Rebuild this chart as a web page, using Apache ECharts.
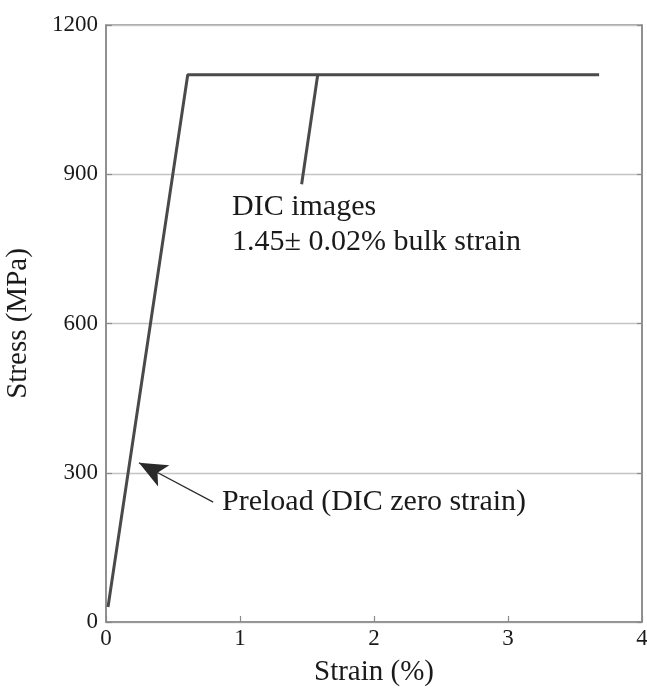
<!DOCTYPE html>
<html>
<head>
<meta charset="utf-8">
<script src="https://cdn.jsdelivr.net/npm/echarts@6/dist/echarts.min.js"></script>
<style>
  html, body { margin: 0; padding: 0; background: #fff; }
  #chart { width: 647px; height: 691px; }
</style>
</head>
<body>
<div id="chart"></div>
<script>
// stress-strain curve (strain %, stress MPa)
const curveStrain = [0.015, 0.61, 3.68]
const curveStress = [30, 1100, 1100]

// pointer line from the DIC label up to the curve
const dicStrain = [1.46, 1.58]
const dicStress = [880, 1100]

// preload arrow: tail -> tip
const preloadStrain = [0.80, 0.246]
const preloadStress = [241, 320]

const yTicks = [0, 300, 600, 900, 1200]
const xTicks = [0, 1, 2, 3, 4]

const font = '"Liberation Serif", "DejaVu Serif", serif'
const ink = '#4a4a4a'
const frame = '#8a8a8a'

const zip = (xs, ys) => xs.map((x, i) => [x, ys[i]])

const chart = echarts.init(document.getElementById('chart'))

chart.setOption({
  animation: false,
  grid: {
    left: 106, right: 5, top: 25, bottom: 69,
    containLabel: false, outerBoundsMode: 'none',
    show: true, borderColor: frame, borderWidth: 1.5,
  },
  xAxis: {
    type: 'value',
    min: xTicks[0],
    max: xTicks[xTicks.length - 1],
    interval: 1,
    name: 'Strain (%)',
    nameLocation: 'middle',
    nameGap: 36,
    nameTextStyle: { fontFamily: font, fontSize: 29, color: '#1a1a1a' },
    axisLine: { lineStyle: { color: frame, width: 1.5 } },
    axisTick: { inside: true, length: 6, lineStyle: { color: frame, width: 1.2 } },
    axisLabel: { fontFamily: font, fontSize: 23, color: '#1a1a1a', margin: 5, formatter: v => String(v) },
    splitLine: { show: false },
  },
  yAxis: [
    {
      type: 'value',
      min: yTicks[0],
      max: yTicks[yTicks.length - 1],
      interval: 300,
      name: 'Stress (MPa)',
      nameLocation: 'middle',
      nameGap: 73,
      nameTextStyle: { fontFamily: font, fontSize: 29, color: '#1a1a1a' },
      axisLine: { show: true, lineStyle: { color: frame, width: 1.5 } },
      axisTick: { show: true, inside: true, length: 6, lineStyle: { color: frame, width: 1.2 } },
      axisLabel: { fontFamily: font, fontSize: 23, color: '#1a1a1a', margin: 8, formatter: v => String(v) },
      splitLine: { show: true, lineStyle: { color: '#c4c4c4', width: 1.3 } },
    },
    {
      type: 'value',
      position: 'right',
      min: yTicks[0],
      max: yTicks[yTicks.length - 1],
      interval: 300,
      axisLine: { show: true, lineStyle: { color: frame, width: 1.5 } },
      axisTick: { show: true, inside: true, length: 5, lineStyle: { color: frame, width: 1.2 } },
      axisLabel: { show: false },
      splitLine: { show: false },
    },
  ],
  series: [
    {
      type: 'line',
      data: zip(curveStrain, curveStress),
      symbol: 'none',
      lineStyle: { color: ink, width: 3 },
      z: 5,
    },
    {
      type: 'line',
      data: zip(dicStrain, dicStress),
      symbol: 'none',
      lineStyle: { color: ink, width: 3 },
      z: 5,
    },
    {
      type: 'line',
      data: [],
      markLine: {
        silent: true,
        symbol: ['none', 'arrow'],
        symbolSize: [18, 28],
        label: { show: false },
        lineStyle: { color: '#2a2a2a', width: 1.2, type: 'solid' },
        data: [[
          { coord: [preloadStrain[0], preloadStress[0]] },
          { coord: [preloadStrain[1], preloadStress[1]] },
        ]],
      },
    },
  ],
  graphic: [
    {
      type: 'text',
      x: 222, y: 502,
      style: {
        text: 'Preload (DIC zero strain)', font: '30px ' + font,
        fill: '#1a1a1a', verticalAlign: 'middle',
      },
    },
    {
      type: 'text',
      x: 232, y: 207,
      style: {
        text: 'DIC images', font: '30px ' + font,
        fill: '#1a1a1a', verticalAlign: 'middle',
      },
    },
    {
      type: 'text',
      x: 232, y: 242,
      style: {
        text: '1.45± 0.02% bulk strain', font: '30px ' + font,
        fill: '#1a1a1a', verticalAlign: 'middle',
      },
    },
  ],
})
</script>
</body>
</html>
